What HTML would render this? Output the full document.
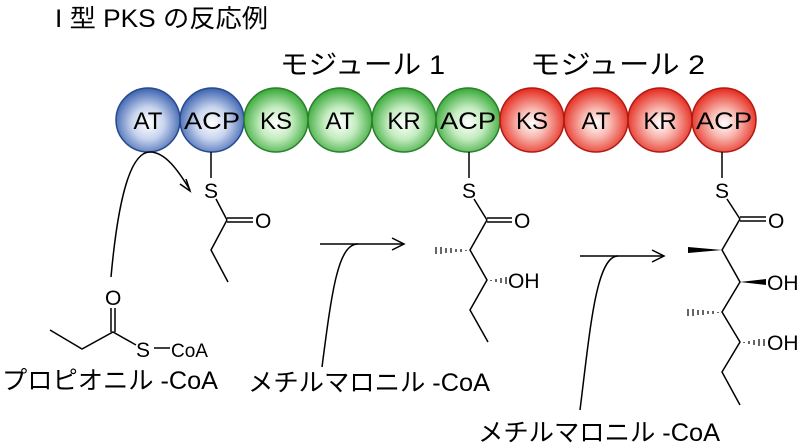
<!DOCTYPE html>
<html><head><meta charset="utf-8"><style>
html,body{margin:0;padding:0;background:#fff}
svg{display:block}
text{font-family:"Liberation Sans","Noto Sans CJK JP",sans-serif;fill:#000}
</style></head><body>
<svg width="802" height="448" viewBox="0 0 802 448" xmlns="http://www.w3.org/2000/svg">
<defs>
<radialGradient id="gb" cx="50%" cy="55%" r="55%"><stop offset="0" stop-color="#fff"/><stop offset="0.45" stop-color="#c9d5ee"/><stop offset="1" stop-color="#3a62b0"/></radialGradient>
<radialGradient id="gg" cx="50%" cy="55%" r="55%"><stop offset="0" stop-color="#fff"/><stop offset="0.45" stop-color="#c4ecc0"/><stop offset="1" stop-color="#36a836"/></radialGradient>
<radialGradient id="gr" cx="50%" cy="55%" r="55%"><stop offset="0" stop-color="#fff"/><stop offset="0.4" stop-color="#f8b8b0"/><stop offset="1" stop-color="#e5281c"/></radialGradient>
</defs>
<text x="55" y="27" font-size="25" textLength="213" lengthAdjust="spacingAndGlyphs">I 型 PKS の反応例</text>
<text x="280" y="74" font-size="27" textLength="165" lengthAdjust="spacingAndGlyphs">モジュール 1</text>
<text x="530" y="74" font-size="27" textLength="175" lengthAdjust="spacingAndGlyphs">モジュール 2</text>
<g stroke-width="1.5">
<circle cx="148" cy="120" r="32" fill="url(#gb)" stroke="#274a8c"/>
<circle cx="212" cy="120" r="32" fill="url(#gb)" stroke="#274a8c"/>
<circle cx="276" cy="120" r="32" fill="url(#gg)" stroke="#2a7f2a"/>
<circle cx="340" cy="120" r="32" fill="url(#gg)" stroke="#2a7f2a"/>
<circle cx="404" cy="120" r="32" fill="url(#gg)" stroke="#2a7f2a"/>
<circle cx="468" cy="120" r="32" fill="url(#gg)" stroke="#2a7f2a"/>
<circle cx="532" cy="120" r="32" fill="url(#gr)" stroke="#b01a10"/>
<circle cx="596" cy="120" r="32" fill="url(#gr)" stroke="#b01a10"/>
<circle cx="660" cy="120" r="32" fill="url(#gr)" stroke="#b01a10"/>
<circle cx="724" cy="120" r="32" fill="url(#gr)" stroke="#b01a10"/>
</g>
<g font-size="24" text-anchor="middle">
<text x="148" y="129">AT</text><text x="212" y="129" textLength="56" lengthAdjust="spacingAndGlyphs">ACP</text>
<text x="276" y="129">KS</text><text x="340" y="129">AT</text><text x="404" y="129">KR</text><text x="468" y="129" textLength="56" lengthAdjust="spacingAndGlyphs">ACP</text>
<text x="532" y="129">KS</text><text x="596" y="129">AT</text><text x="660" y="129">KR</text><text x="724" y="129" textLength="56" lengthAdjust="spacingAndGlyphs">ACP</text>
</g>
<g stroke="#000" stroke-width="1.5" fill="none">
<line x1="211" y1="152" x2="211" y2="178"/>
<line x1="216" y1="199" x2="227" y2="220"/>
<line x1="227" y1="218" x2="253" y2="218"/><line x1="227" y1="222" x2="253" y2="222"/>
<polyline points="227,220 211,250 228,282"/>
<line x1="469" y1="152" x2="469" y2="178"/>
<line x1="474" y1="199" x2="487" y2="220"/>
<line x1="487" y1="218" x2="512" y2="218"/><line x1="487" y1="222" x2="512" y2="222"/>
<polyline points="487,220 470,250 487,280 470,310 488,342"/>
<line x1="722" y1="152" x2="722" y2="178"/>
<line x1="727" y1="199" x2="740" y2="219"/>
<line x1="740" y1="217" x2="766" y2="217"/><line x1="740" y1="221" x2="766" y2="221"/>
<polyline points="740,219 722,250 740,282 722,312 740,342 722,372 740,405"/>
<polyline points="50,330 82,349 113,332 136,345"/>
<line x1="111" y1="308" x2="111" y2="332"/><line x1="115" y1="308" x2="115" y2="332"/>
<line x1="154" y1="348" x2="170" y2="348"/>
<path d="M111,277 C118,200 130,152 150,152 C165,152 178,170 190,190"/>
<path d="M180,184 L190,191 L186,179" />
<line x1="320" y1="244" x2="403" y2="244"/><path d="M392,238 L404,244 L392,250"/>
<path d="M322,367 C332,290 338,244 358,244"/>
<line x1="580" y1="256" x2="663" y2="256"/><path d="M652,250 L664,256 L652,262"/>
<path d="M580,410 C590,330 596,256 618,256"/>
</g>
<g fill="#000">
<polygon points="722,250 688,247 688,253"/>
<polygon points="740,282 766,279 766,285"/>
</g>
<g stroke="#000" stroke-width="1.2">
<path d="M466,250v1 M461,249v3 M456,249v3 M451,248v5 M446,248v5 M441,247v7 M436,247v7"/>
<path d="M491,280v1 M496,279v3 M501,278v5 M506,277v7"/>
<path d="M718,312v1 M713,311v3 M708,311v3 M703,310v5 M698,310v5 M693,309v7 M688,309v7"/>
<path d="M744,342v1 M749,341v3 M754,340v5 M759,339v7 M764,339v7"/>
</g>
<g font-size="21">
<text x="204" y="198">S</text><text x="255" y="228">O</text>
<text x="462" y="198">S</text><text x="514" y="228">O</text><text x="508" y="288">OH</text>
<text x="715" y="198">S</text><text x="768" y="228">O</text><text x="767" y="290">OH</text><text x="767" y="350">OH</text>
<text x="105" y="305">O</text><text x="136" y="357">S</text>
</g>
<text x="171" y="357" font-size="19">CoA</text>
<text x="2" y="389" font-size="25" textLength="216" lengthAdjust="spacingAndGlyphs">プロピオニル -CoA</text>
<text x="248" y="391" font-size="25" textLength="242" lengthAdjust="spacingAndGlyphs">メチルマロニル -CoA</text>
<text x="478" y="441" font-size="25" textLength="242" lengthAdjust="spacingAndGlyphs">メチルマロニル -CoA</text>
</svg>
</body></html>
